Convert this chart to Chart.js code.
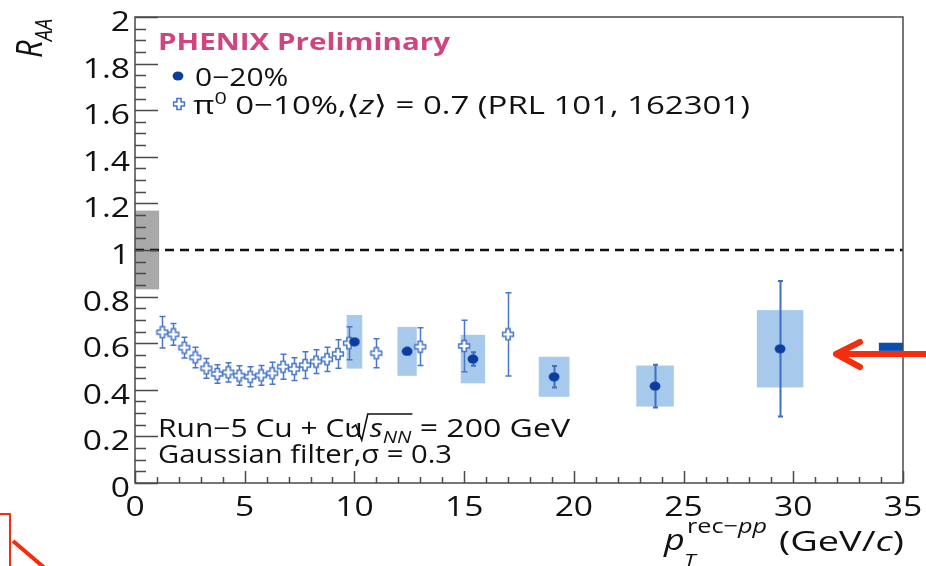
<!DOCTYPE html>
<html>
<head>
<meta charset="utf-8">
<script src="https://cdn.jsdelivr.net/npm/chart.js@4.4.1/dist/chart.umd.min.js"></script>
<style>
html,body{margin:0;padding:0;background:#fff;}
canvas{display:block;}
</style>
</head>
<body>
<canvas id="raa" width="926" height="566"></canvas>
<script>
// pi0 0-10%, <z>=0.7 (PRL 101, 162301)
const pi0X=[1.25,1.75,2.25,2.75,3.25,3.75,4.25,4.75,5.25,5.75,6.25,6.75,7.25,7.75,8.25,8.75,9.25,9.75,11,13,15,17];
const pi0Y=[0.647,0.638,0.581,0.539,0.492,0.468,0.475,0.461,0.456,0.462,0.471,0.499,0.489,0.506,0.521,0.531,0.554,0.600,0.557,0.585,0.588,0.638];
const pi0Err=[0.068,0.047,0.045,0.044,0.042,0.040,0.041,0.042,0.043,0.042,0.047,0.054,0.049,0.057,0.051,0.052,0.061,0.071,0.062,0.081,0.111,0.179];

// 0-20% jets, stat errors and systematic boxes
const jetX=[10.0,12.4,15.4,19.1,23.7,29.4];
const jetY=[0.606,0.565,0.532,0.456,0.416,0.576];
const jetStat=[0.012,0.014,0.029,0.046,0.092,0.291];
const jetSys=[0.115,0.105,0.104,0.086,0.088,0.166];
const jetBinHalf=[0.355,0.44,0.555,0.70,0.855,1.06];

// global normalisation uncertainties
const ppNorm={x0:0,x1:1.1,y0:0.831,y1:1.169};
const aaNorm={x0:33.9,x1:35,y0:0.567,y1:0.602};

const xTicks=[0,5,10,15,20,25,30,35];
const yTicks=[0,0.2,0.4,0.6,0.8,1,1.2,1.4,1.6,1.8,2];
const yTickLabels=['0','0.2','0.4','0.6','0.8','1','1.2','1.4','1.6','1.8','2'];

const SX=1.2;
const FONT='"Open Sans","DejaVu Sans",sans-serif';
const fontOf=p=>(p.st||'')+' '+(p.s||25)+'px '+FONT;

// draws a list of text runs, horizontally stretched (to width tw if given); returns end x
function textRuns(ctx,parts,x,y,align,tw){
  ctx.save();
  let w=0;
  parts.forEach(p=>{ctx.font=fontOf(p);p.w=ctx.measureText(p.t).width;w+=p.w;});
  const sx=tw?tw/w:SX;
  const x0=align==='right'?x-w*sx:align==='center'?x-w*sx/2:x;
  ctx.translate(x0,y);ctx.scale(sx,1);
  ctx.textAlign='left';ctx.textBaseline='alphabetic';
  let cx=0;
  parts.forEach(p=>{
    ctx.font=fontOf(p);ctx.fillStyle=p.c||'#111';
    ctx.fillText(p.t,cx,p.dy||0);
    cx+=p.w;
  });
  ctx.restore();
  return x0+cx*sx;
}

// open cross marker
const crossImg=document.createElement('canvas');
crossImg.width=14;crossImg.height=14;
(function(){
  const c=crossImg.getContext('2d'),m=7,a=2.1,l=5.4;
  c.beginPath();
  c.moveTo(m-a,m-l);c.lineTo(m+a,m-l);c.lineTo(m+a,m-a);c.lineTo(m+l,m-a);c.lineTo(m+l,m+a);
  c.lineTo(m+a,m+a);c.lineTo(m+a,m+l);c.lineTo(m-a,m+l);c.lineTo(m-a,m+a);c.lineTo(m-l,m+a);
  c.lineTo(m-l,m-a);c.lineTo(m-a,m-a);c.closePath();
  c.fillStyle='#fff';c.fill();
  c.strokeStyle='#4475c8';c.lineWidth=1.5;c.stroke();
})();

// filled dot marker, a bit wider than tall
const dotImg=document.createElement('canvas');
dotImg.width=12;dotImg.height=10;
(function(){
  const c=dotImg.getContext('2d');
  c.beginPath();c.ellipse(6,5,5.4,4.5,0,0,Math.PI*2);
  c.fillStyle='#0a3d9e';c.fill();
})();

function errBar(ctx,xs,ys,x,y,e,col,lw,cap){
  const px=Math.round(xs.getPixelForValue(x))+0.5;
  const a=ys.getPixelForValue(y+e),b=ys.getPixelForValue(y-e);
  ctx.strokeStyle=col;ctx.lineWidth=lw;
  ctx.beginPath();
  ctx.moveTo(px,a);ctx.lineTo(px,b);
  ctx.moveTo(px-cap,a);ctx.lineTo(px+cap,a);
  ctx.moveTo(px-cap,b);ctx.lineTo(px+cap,b);
  ctx.stroke();
}

function box(ctx,xs,ys,x0,x1,y0,y1,col){
  const l=xs.getPixelForValue(x0),r=xs.getPixelForValue(x1);
  const t=ys.getPixelForValue(y1),b=ys.getPixelForValue(y0);
  ctx.fillStyle=col;ctx.fillRect(l,t,r-l,b-t);
}

const rootStyle={
  id:'rootStyle',
  beforeDatasetsDraw(chart){
    const ctx=chart.ctx,xs=chart.scales.x,ys=chart.scales.y;
    ctx.save();
    box(ctx,xs,ys,ppNorm.x0,ppNorm.x1,ppNorm.y0,ppNorm.y1,'#a9a9a9');
    box(ctx,xs,ys,aaNorm.x0,aaNorm.x1,aaNorm.y0,aaNorm.y1,'#0b4db0');
    jetX.forEach((x,i)=>box(ctx,xs,ys,x-jetBinHalf[i],x+jetBinHalf[i],jetY[i]-jetSys[i],jetY[i]+jetSys[i],'#a7c9eb'));
    // unity line
    const y1=ys.getPixelForValue(1);
    ctx.setLineDash([9,6]);ctx.strokeStyle='#111';ctx.lineWidth=2.5;
    ctx.beginPath();ctx.moveTo(xs.getPixelForValue(0),y1);ctx.lineTo(xs.getPixelForValue(35),y1);ctx.stroke();
    ctx.setLineDash([]);
    pi0X.forEach((x,i)=>errBar(ctx,xs,ys,x,pi0Y[i],pi0Err[i],'#4a78c8',1.5,3));
    jetX.forEach((x,i)=>errBar(ctx,xs,ys,x,jetY[i],jetStat[i],'#3e6fc2',2,2.5));
    ctx.restore();
  },
  afterDraw(chart){
    const ctx=chart.ctx,xs=chart.scales.x,ys=chart.scales.y,a=chart.chartArea;
    ctx.save();
    // frame
    ctx.strokeStyle='#4a4a4a';ctx.lineWidth=1.5;
    ctx.strokeRect(a.left,a.top,a.right-a.left,a.bottom-a.top);
    // inner ticks
    ctx.beginPath();
    for(let v=0;v<=2.0001;v+=0.05){
      const py=Math.round(ys.getPixelForValue(v))+0.5;
      const major=Math.abs(v/0.2-Math.round(v/0.2))<1e-6;
      ctx.moveTo(a.left,py);ctx.lineTo(a.left+(major?23:11),py);
    }
    for(let v=0;v<=35;v+=1){
      const px=Math.round(xs.getPixelForValue(v))+0.5;
      ctx.moveTo(px,a.bottom);ctx.lineTo(px,a.bottom-(v%5===0?12:6));
    }
    ctx.stroke();
    // tick labels
    yTicks.forEach((v,i)=>textRuns(ctx,[{t:yTickLabels[i],s:28}],130,ys.getPixelForValue(v)+14,'right'));
    xTicks.forEach(v=>textRuns(ctx,[{t:String(v),s:28}],xs.getPixelForValue(v),516,'center'));

    // y title R_AA, rotated
    ctx.save();
    ctx.translate(42,58);ctx.scale(SX,1);ctx.rotate(-Math.PI/2);
    ctx.fillStyle='#111';
    ctx.font='italic 31px '+FONT;ctx.fillText('R',0,0);
    const rw=ctx.measureText('R').width;
    ctx.font='italic 20px '+FONT;ctx.fillText('AA',rw-1,8);
    ctx.restore();

    // x title
    textRuns(ctx,[{t:'p',s:30,st:'italic'}],664,550);
    textRuns(ctx,[{t:'rec\u2212',s:20},{t:'pp',s:20,st:'italic'}],687,533,'left',80);
    textRuns(ctx,[{t:'T',s:19,st:'italic'}],684,567);
    textRuns(ctx,[{t:'(GeV/',s:27},{t:'c',s:27,st:'italic'},{t:')',s:27}],779,551,'left',125);

    // legend
    textRuns(ctx,[{t:'PHENIX Preliminary',s:23,st:'bold',c:'#cf4580'}],158,50,'left',292);
    ctx.drawImage(dotImg,178-6,76-5);
    textRuns(ctx,[{t:'0\u221220%',s:25}],195,86);
    ctx.drawImage(crossImg,179-7,104-7);
    textRuns(ctx,[{t:'\u03c0',s:26},{t:'0',s:17,dy:-10},{t:' 0\u221210%,\u27e8',s:26},{t:'z',s:26,st:'italic'},{t:'\u27e9 = 0.7 (PRL 101, 162301)',s:26}],193,114,'left',557);

    // collision system and filter
    const xe=textRuns(ctx,[{t:'Run\u22125 Cu + Cu',s:25}],158,437);
    ctx.strokeStyle='#111';ctx.lineWidth=1.6;
    ctx.beginPath();
    ctx.moveTo(xe-11,428);ctx.lineTo(xe-7,425);ctx.lineTo(xe-1,440);ctx.lineTo(xe+5,414);
    const xs2=textRuns(ctx,[{t:'s',s:25,st:'italic'},{t:'NN',s:17,st:'italic',dy:6}],xe+7,437);
    ctx.lineTo(xs2+1,414);ctx.stroke();
    textRuns(ctx,[{t:' = 200 GeV',s:25}],xs2,437,'left',570-xs2);
    textRuns(ctx,[{t:'Gaussian filter,\u03c3 = 0.3',s:25}],158,463,'left',294);

    // red annotations
    ctx.strokeStyle='#f52c0e';ctx.lineCap='round';ctx.lineJoin='round';
    ctx.lineWidth=6;
    ctx.beginPath();
    ctx.moveTo(836,354);ctx.lineTo(930,354);
    ctx.moveTo(860,342);ctx.lineTo(836,354);ctx.lineTo(860,367);
    ctx.stroke();
    ctx.lineWidth=2;ctx.lineCap='butt';
    ctx.beginPath();ctx.moveTo(-2,514);ctx.lineTo(10,514);ctx.lineTo(10,570);ctx.stroke();
    ctx.lineWidth=4;
    ctx.beginPath();ctx.moveTo(13,541);ctx.lineTo(47,570);ctx.stroke();
    ctx.restore();
  }
};

new Chart(document.getElementById('raa'),{
  type:'scatter',
  data:{
    datasets:[
      {label:'0\u221220%',data:jetX.map((x,i)=>({x:x,y:jetY[i]})),pointStyle:dotImg,pointRadius:6},
      {label:'\u03c00 0\u221210%',data:pi0X.map((x,i)=>({x:x,y:pi0Y[i]})),pointStyle:crossImg,pointRadius:7}
    ]
  },
  options:{
    responsive:false,
    devicePixelRatio:1,
    animation:false,
    layout:{padding:{top:17,right:23,left:0,bottom:0}},
    plugins:{legend:{display:false},tooltip:{enabled:false}},
    scales:{
      x:{type:'linear',min:0,max:35,grid:{display:false},border:{display:false},ticks:{display:false},
         afterFit:s=>{s.height=83;}},
      y:{type:'linear',min:0,max:2,grid:{display:false},border:{display:false},ticks:{display:false},
         afterFit:s=>{s.width=135;}}
    }
  },
  plugins:[rootStyle]
});
</script>
</body>
</html>
